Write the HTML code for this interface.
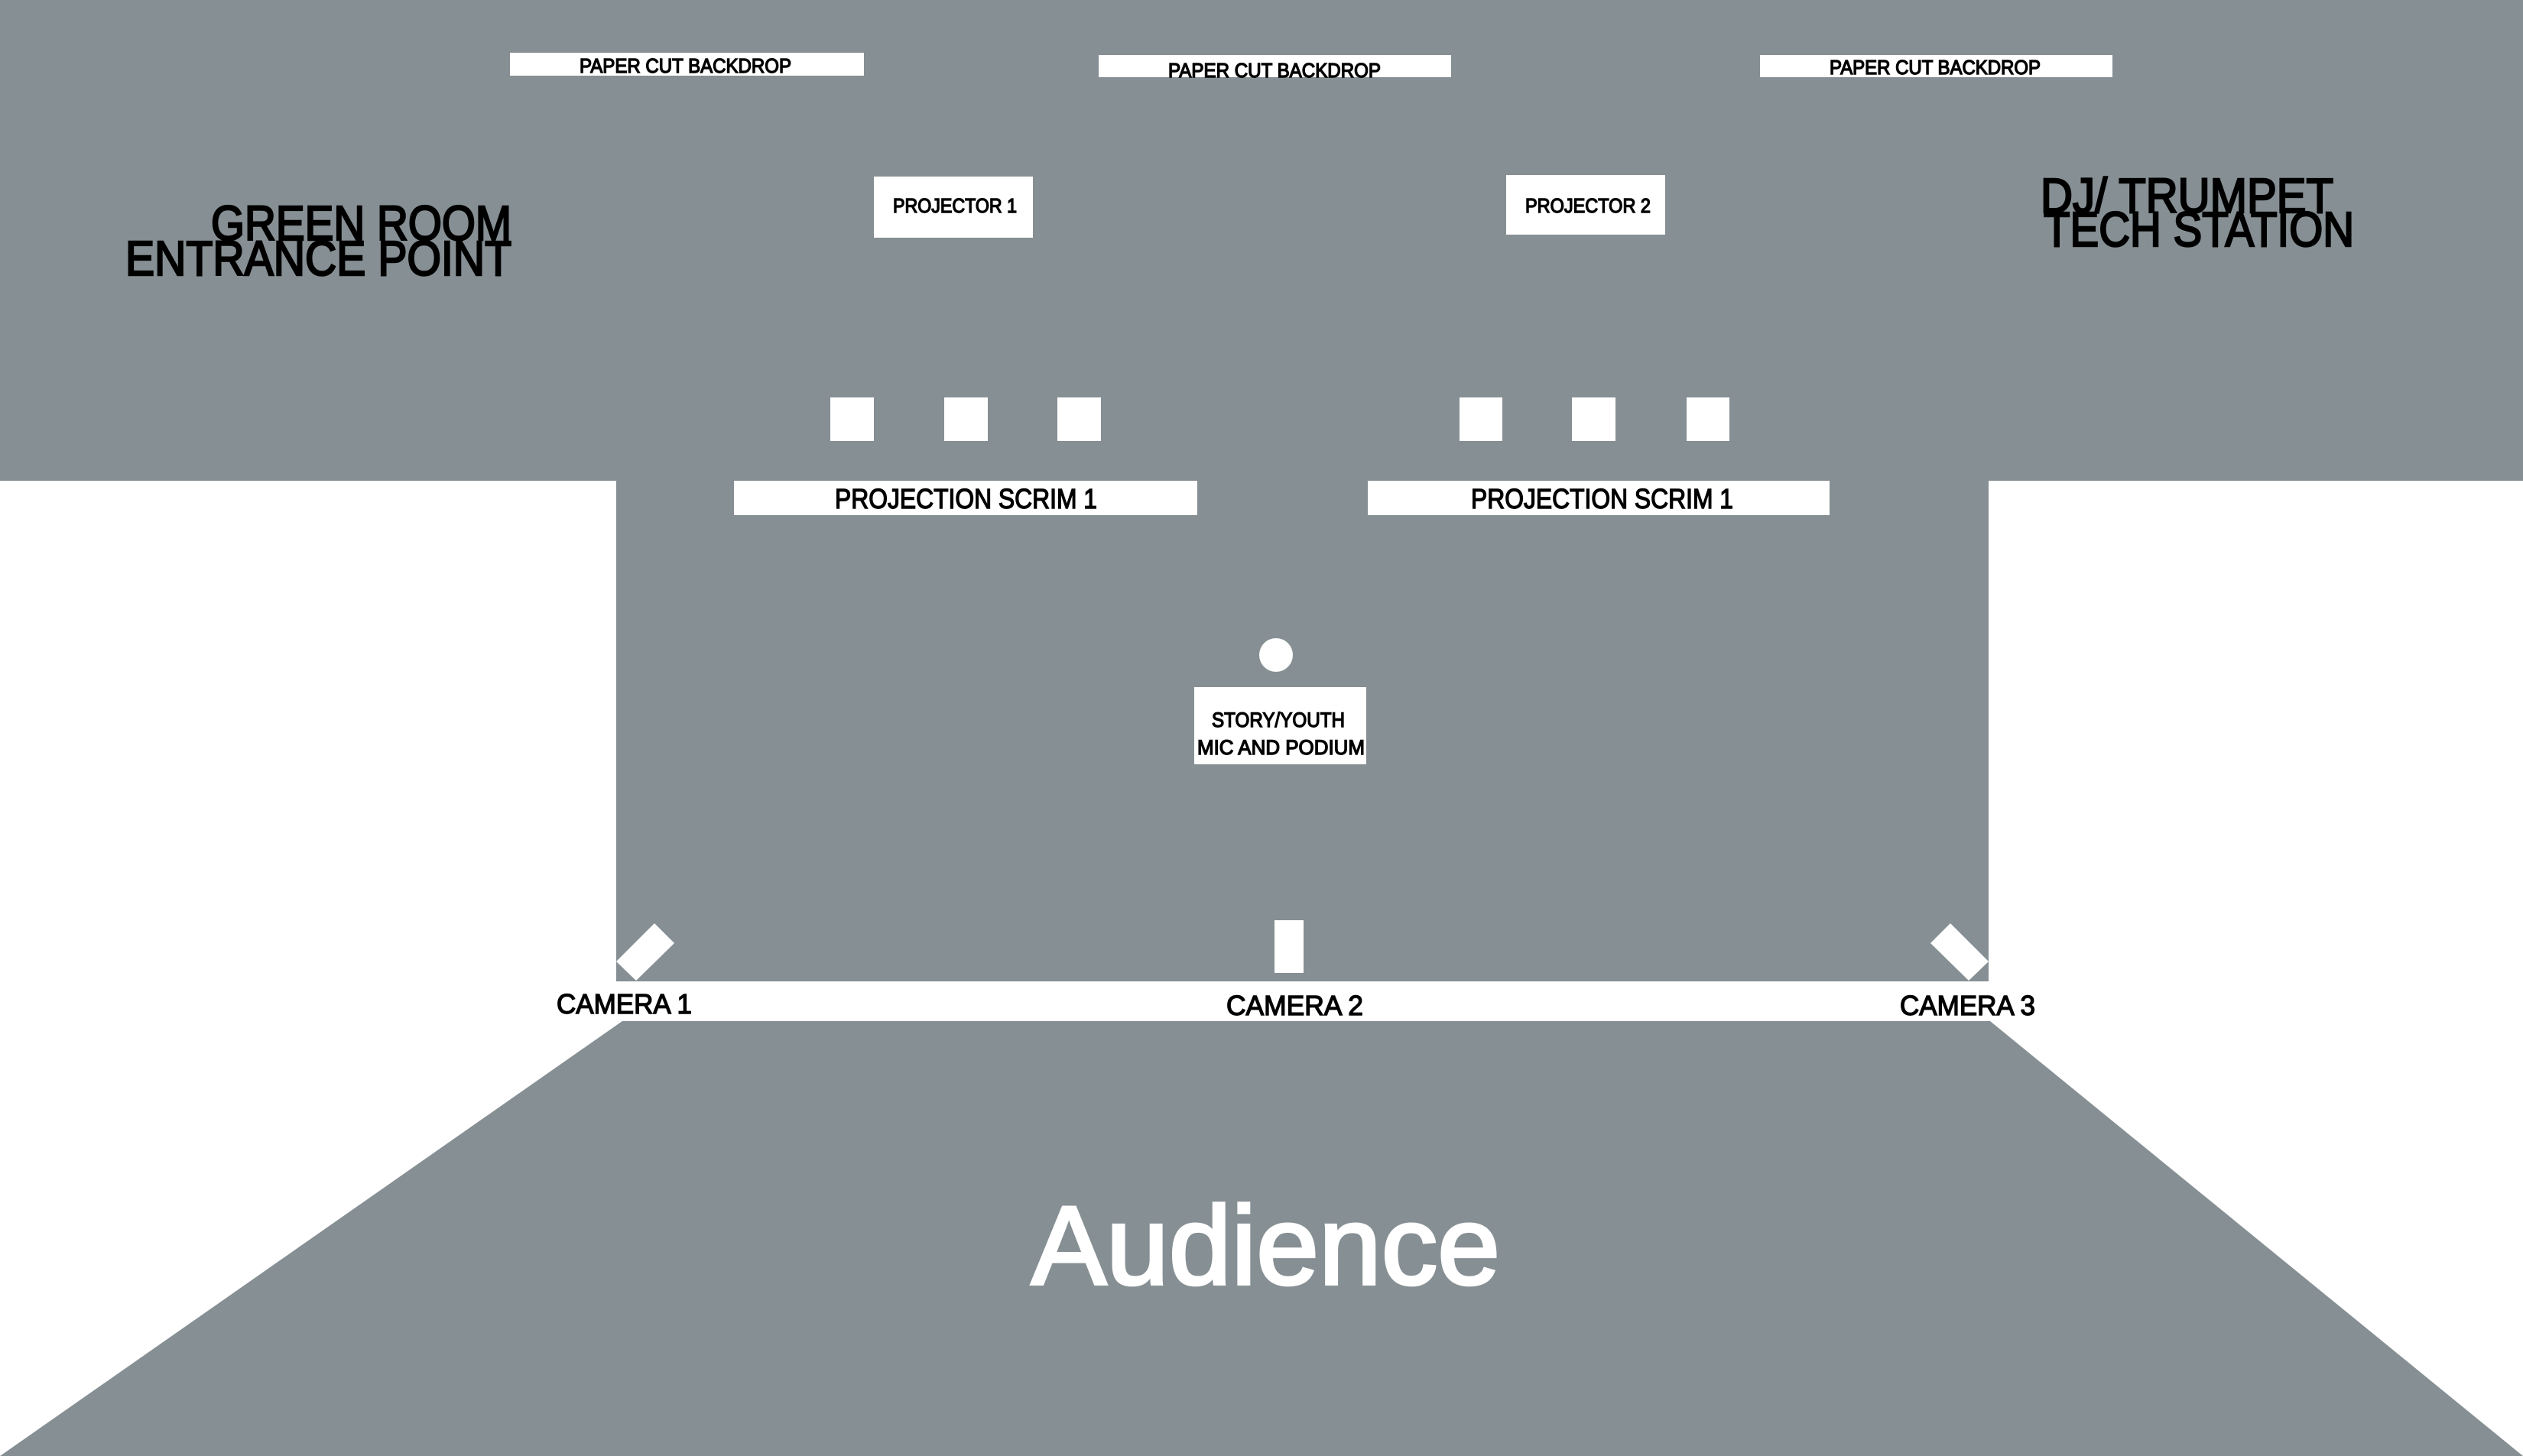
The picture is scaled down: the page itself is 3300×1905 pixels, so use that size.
<!DOCTYPE html>
<html><head><meta charset="utf-8"><style>html,body{margin:0;padding:0;background:#fff}svg{display:block}</style></head>
<body>
<svg width="3300" height="1905" viewBox="0 0 3300 1905" xmlns="http://www.w3.org/2000/svg" font-family="Liberation Sans, sans-serif">
<rect width="3300" height="1905" fill="#fff"/>
<g fill="#868f93">
<rect x="0" y="0" width="3300" height="629"/>
<rect x="806" y="0" width="1795" height="1284"/>
<polygon points="814,1336 2603,1336 3300,1905 0,1905"/>
</g>
<g fill="#fff">
<rect x="667" y="69" width="463" height="30"/>
<rect x="1437" y="72" width="461" height="29"/>
<rect x="2302" y="72" width="461" height="29"/>
<rect x="1143" y="231" width="208" height="80"/>
<rect x="1970" y="229" width="208" height="78"/>
<rect x="1086" y="520" width="57" height="57"/>
<rect x="1235" y="520" width="57" height="57"/>
<rect x="1383" y="520" width="57" height="57"/>
<rect x="1909" y="520" width="56" height="57"/>
<rect x="2056" y="520" width="57" height="57"/>
<rect x="2206" y="520" width="56" height="57"/>
<rect x="960" y="629" width="606" height="45"/>
<rect x="1789" y="629" width="604" height="45"/>
<circle cx="1669" cy="857" r="22"/>
<rect x="1562" y="899" width="225" height="101"/>
<rect x="1667" y="1204" width="38" height="69"/>
<polygon points="2551,1208 2601,1258 2575,1283 2525,1234"/>
<polygon points="856,1208 806,1258 832,1283 882,1234"/>
</g>
<g fill="#000" stroke="#000" stroke-width="1.4">
<text x="758" y="95" font-size="26" textLength="277" lengthAdjust="spacingAndGlyphs">PAPER CUT BACKDROP</text>
<text x="1528" y="101" font-size="26" textLength="278" lengthAdjust="spacingAndGlyphs">PAPER CUT BACKDROP</text>
<text x="2393" y="97" font-size="26" textLength="276" lengthAdjust="spacingAndGlyphs">PAPER CUT BACKDROP</text>
<text x="1168" y="278" font-size="26" textLength="162" lengthAdjust="spacingAndGlyphs">PROJECTOR 1</text>
<text x="1995" y="278" font-size="26" textLength="164" lengthAdjust="spacingAndGlyphs">PROJECTOR 2</text>
<text x="1092" y="665" font-size="36" textLength="343" lengthAdjust="spacingAndGlyphs">PROJECTION SCRIM 1</text>
<text x="1924" y="665" font-size="36" textLength="343" lengthAdjust="spacingAndGlyphs">PROJECTION SCRIM 1</text>
<text x="1585" y="951" font-size="27" textLength="174" lengthAdjust="spacingAndGlyphs">STORY/YOUTH</text>
<text x="1566" y="987" font-size="27" textLength="219" lengthAdjust="spacingAndGlyphs">MIC AND PODIUM</text>
<text x="728" y="1326" font-size="36" textLength="177" lengthAdjust="spacingAndGlyphs">CAMERA 1</text>
<text x="1604" y="1328" font-size="36" textLength="179" lengthAdjust="spacingAndGlyphs">CAMERA 2</text>
<text x="2485" y="1328" font-size="36" textLength="177" lengthAdjust="spacingAndGlyphs">CAMERA 3</text>
<g stroke-width="2.5">
<text x="276" y="314" font-size="64" textLength="393" lengthAdjust="spacingAndGlyphs">GREEN ROOM</text>
<text x="164" y="360" font-size="64" textLength="505" lengthAdjust="spacingAndGlyphs">ENTRANCE POINT</text>
<text x="2669" y="278" font-size="64" textLength="383" lengthAdjust="spacingAndGlyphs">DJ/ TRUMPET</text>
<text x="2673" y="322" font-size="64" textLength="406" lengthAdjust="spacingAndGlyphs">TECH STATION</text>
</g>
</g>
<text x="1349" y="1680" font-size="146" fill="#fff" stroke="#fff" stroke-width="4" textLength="613" lengthAdjust="spacingAndGlyphs">Audience</text>
</svg>
</body></html>
